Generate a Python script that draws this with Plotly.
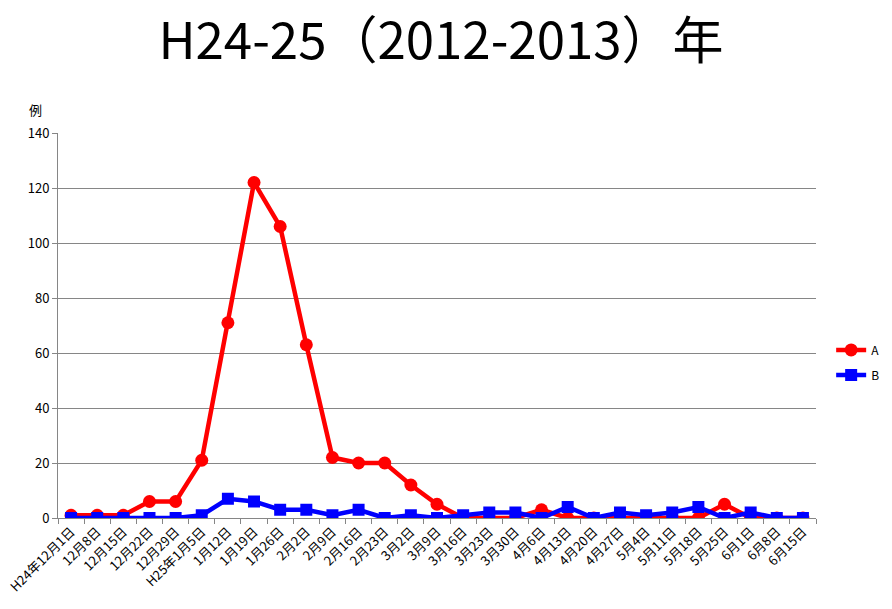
import plotly.graph_objects as go

categories = ["H24年12月1日", "12月8日", "12月15日", "12月22日", "12月29日", "H25年1月5日",
              "1月12日", "1月19日", "1月26日", "2月2日", "2月9日", "2月16日", "2月23日",
              "3月2日", "3月9日", "3月16日", "3月23日", "3月30日", "4月6日", "4月13日",
              "4月20日", "4月27日", "5月4日", "5月11日", "5月18日", "5月25日", "6月1日",
              "6月8日", "6月15日"]
series_a = [1, 1, 1, 6, 6, 21, 71, 122, 106, 63, 22, 20, 20, 12, 5, 0, 0, 0, 3, 0,
            0, 0, 0, 0, 0, 5, 0, 0, 0]
series_b = [0, 0, 0, 0, 0, 1, 7, 6, 3, 3, 1, 3, 0, 1, 0, 1, 2, 2, 0, 4,
            0, 2, 1, 2, 4, 0, 2, 0, 0]
y_ticks = [0, 20, 40, 60, 80, 100, 120, 140]

font_family = "Noto Sans CJK JP, Noto Sans, sans-serif"

W, H = 892, 609

fig = go.Figure()
fig.add_trace(go.Scatter(x=categories, y=series_a, name="A", mode="lines+markers",
                         legendgroup="a",
                         line=dict(color="#FF0000", width=4.5),
                         marker=dict(symbol="circle", size=13, color="#FF0000")))
fig.add_trace(go.Scatter(x=categories, y=series_b, name="B", mode="lines+markers",
                         legendgroup="b",
                         line=dict(color="#0000FF", width=4.5),
                         marker=dict(symbol="square", size=12, color="#0000FF")))

fig.update_layout(
    width=W, height=H,
    margin=dict(l=58, r=76, t=133, b=91, autoexpand=False),
    paper_bgcolor="white", plot_bgcolor="white",
    font=dict(family=font_family, color="#000000", size=13),
    title=dict(text="H24-25（2012-2013）年", x=441 / W, xref="container", xanchor="center",
               y=1 - 41 / H, yref="container", yanchor="middle",
               font=dict(size=51, family=font_family, color="#000000")),
    legend=dict(x=1.02, y=0.404, xanchor="left", yanchor="middle",
                font=dict(size=12), bgcolor="rgba(0,0,0,0)", tracegroupgap=6,
                itemwidth=30),
    showlegend=True,
)
fig.update_xaxes(type="category", tickangle=-45, tickson="boundaries", ticks="outside",
                 ticklen=5, tickcolor="#868686", showline=True, linecolor="#868686",
                 linewidth=1, showgrid=False, tickfont=dict(size=13), automargin=False,
                 range=[-0.5, len(categories) - 0.5])
fig.update_yaxes(range=[0, 140], tickvals=y_ticks, ticks="outside", ticklen=5,
                 tickcolor="#868686", showline=True, linecolor="#868686", linewidth=1,
                 showgrid=True, gridcolor="#868686", gridwidth=1, zeroline=False,
                 tickfont=dict(size=13), automargin=False)
fig.add_annotation(text="例", xref="paper", yref="paper", x=-0.03, y=1.06,
                   showarrow=False, xanchor="center", yanchor="middle",
                   font=dict(size=13))

fig.write_html("out.html",
               config={"displayModeBar": False},
               post_script="document.body.style.margin='0px';document.body.style.overflow='hidden';")
